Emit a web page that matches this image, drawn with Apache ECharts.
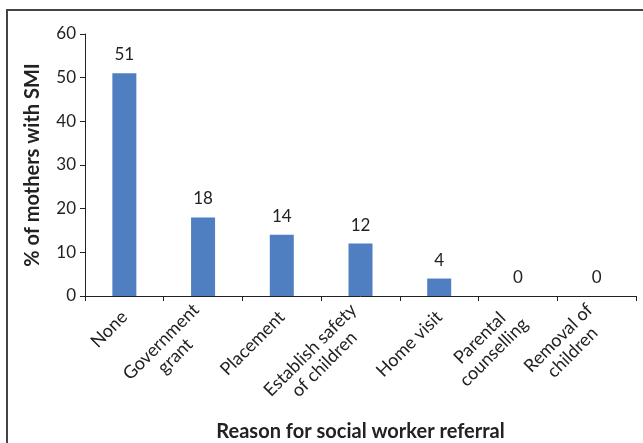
<!DOCTYPE html>
<html><head><meta charset="utf-8">
<script src="https://cdn.jsdelivr.net/npm/echarts@6/dist/echarts.min.js"></script>
<style>
html,body{margin:0;padding:0;background:#fff;}
#frame{position:absolute;left:6px;top:9px;width:637px;height:434px;border-left:2px solid #444;border-top:2px solid #444;box-sizing:border-box;}
#c{position:absolute;left:0;top:0;width:643px;height:443px;}
</style></head>
<body>
<div id="frame"></div>
<div id="c"></div>
<script>
var categories = ["None","Government\ngrant","Placement","Establish safety\nof children","Home visit","Parental\ncounselling","Removal of\nchildren"];
var values = [51,18,14,12,4,0,0];
var yTicks = [0,10,20,30,40,50,60];

var font = "Lato, 'Open Sans', sans-serif";
var chart = echarts.init(document.getElementById('c'), null, {renderer:'canvas'});
chart.setOption({
  animation:false,
  grid:{left:85,right:7,top:34,bottom:147,containLabel:false,outerBoundsMode:'none'},
  xAxis:{
    type:'category', data:categories,
    axisLine:{lineStyle:{color:'#222',width:1}},
    axisTick:{show:true,length:5,lineStyle:{color:'#222'}},
    axisLabel:{rotate:45,interval:0,color:'#222',fontSize:18,fontFamily:font,lineHeight:20,margin:18,align:'right',
      formatter:function(v){return v.split('\n').map(function(s){return '{c|'+s+'}';}).join('\n');},
      rich:{c:{align:'center',fontSize:18,fontFamily:font,color:'#222',lineHeight:20}}
    },
    name:'Reason for social worker referral', nameLocation:'middle', nameGap:105,
    nameTextStyle:{fontSize:20,fontWeight:'bold',color:'#222',fontFamily:font}
  },
  yAxis:{
    type:'value', min:yTicks[0], max:yTicks[yTicks.length-1], interval:10,
    axisLine:{show:true,lineStyle:{color:'#222',width:1}},
    axisTick:{show:true,length:5,lineStyle:{color:'#222'}},
    splitLine:{show:false},
    axisLabel:{color:'#222',fontSize:17,fontFamily:font,margin:9},
    name:'% of mothers with SMI', nameLocation:'middle', nameGap:42,
    nameTextStyle:{fontSize:20,fontWeight:'bold',color:'#222',fontFamily:font}
  },
  series:[{
    type:'bar', data:values, barWidth:24,
    itemStyle:{color:'#4F7FC0'},
    label:{show:true,position:'top',distance:10,color:'#222',fontSize:17,fontFamily:font}
  }]
});
</script>
</body></html>
